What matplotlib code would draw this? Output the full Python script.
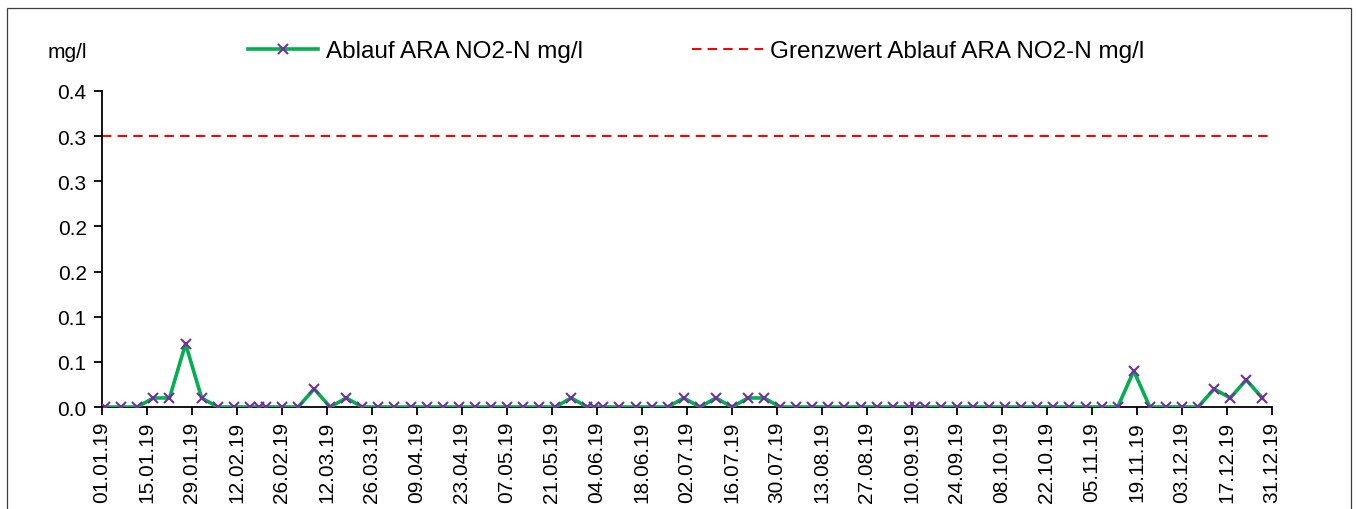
import matplotlib.pyplot as plt
from matplotlib.patches import Rectangle
import pandas as pd

plt.rcParams['font.family'] = ['Liberation Sans', 'DejaVu Sans']

# Messdaten Ablauf ARA NO2-N (mg/l)
daten = [
    "02.01.2019", "07.01.2019", "12.01.2019", "17.01.2019", "22.01.2019", "27.01.2019",
    "01.02.2019", "06.02.2019", "11.02.2019", "16.02.2019", "19.02.2019", "21.02.2019",
    "26.02.2019", "03.03.2019", "08.03.2019", "13.03.2019", "18.03.2019", "23.03.2019",
    "28.03.2019", "02.04.2019", "07.04.2019", "12.04.2019", "17.04.2019", "22.04.2019",
    "27.04.2019", "02.05.2019", "07.05.2019", "12.05.2019", "17.05.2019", "22.05.2019",
    "27.05.2019", "01.06.2019", "03.06.2019", "06.06.2019", "11.06.2019", "16.06.2019",
    "21.06.2019", "26.06.2019", "01.07.2019", "06.07.2019", "11.07.2019", "16.07.2019",
    "21.07.2019", "26.07.2019", "31.07.2019", "05.08.2019", "10.08.2019", "15.08.2019",
    "20.08.2019", "25.08.2019", "30.08.2019", "04.09.2019", "09.09.2019", "11.09.2019",
    "14.09.2019", "19.09.2019", "24.09.2019", "29.09.2019", "04.10.2019", "09.10.2019",
    "14.10.2019", "19.10.2019", "24.10.2019", "29.10.2019", "03.11.2019", "08.11.2019",
    "13.11.2019", "18.11.2019", "23.11.2019", "28.11.2019", "03.12.2019", "08.12.2019",
    "13.12.2019", "18.12.2019", "23.12.2019", "28.12.2019",
]
no2_werte = [
    0.0, 0.0, 0.0, 0.01, 0.01, 0.07,
    0.01, 0.0, 0.0, 0.0, 0.0, 0.0,
    0.0, 0.0, 0.02, 0.0, 0.01, 0.0,
    0.0, 0.0, 0.0, 0.0, 0.0, 0.0,
    0.0, 0.0, 0.0, 0.0, 0.0, 0.0,
    0.01, 0.0, 0.0, 0.0, 0.0, 0.0,
    0.0, 0.0, 0.01, 0.0, 0.01, 0.0,
    0.01, 0.01, 0.0, 0.0, 0.0, 0.0,
    0.0, 0.0, 0.0, 0.0, 0.0, 0.0,
    0.0, 0.0, 0.0, 0.0, 0.0, 0.0,
    0.0, 0.0, 0.0, 0.0, 0.0, 0.0,
    0.0, 0.04, 0.0, 0.0, 0.0, 0.0,
    0.02, 0.01, 0.03, 0.01,
]
grenz_daten = ["01.01.2019", "31.12.2019"]
grenz_werte = [0.3, 0.3]

y_ticks = [0.0, 0.05, 0.10, 0.15, 0.20, 0.25, 0.30, 0.35]
y_labels = ["0.0", "0.1", "0.1", "0.2", "0.2", "0.3", "0.3", "0.4"]

x = pd.to_datetime(daten, format="%d.%m.%Y")
xg = pd.to_datetime(grenz_daten, format="%d.%m.%Y")

W, H = 1357, 510
fig = plt.figure(figsize=(W / 100, H / 100), dpi=100)
ax = fig.add_axes([102 / W, 1 - 408 / H, (1272 - 102) / W, (408 - 92) / H])

ax.plot(x, no2_werte, color='#00B050', lw=2.6, marker='x', ms=7.5,
        mec='#7030A0', mew=1.5, label='Ablauf ARA NO2-N mg/l', zorder=3)
ax.plot(xg, grenz_werte, color='#FF0000', lw=1.5, ls=(0, (4.5, 3)),
        label='Grenzwert Ablauf ARA NO2-N mg/l', zorder=2)

ax.set_xlim(xg[0], xg[1])
ax.set_ylim(0, 0.35)
ax.set_yticks(y_ticks)
ax.set_yticklabels(y_labels)
ticks = pd.date_range(xg[0], xg[1], freq='14D')
ax.set_xticks(ticks)
ax.set_xticklabels([t.strftime('%d.%m.%y') for t in ticks], rotation=90)

for s in ['top', 'right']:
    ax.spines[s].set_visible(False)
for s in ['left', 'bottom']:
    ax.spines[s].set_linewidth(1.3)
ax.tick_params(axis='both', direction='out', length=6, width=1.3, labelsize=15, pad=5)
ax.tick_params(axis='x', pad=4)

fig.text(48 / W, 1 - 52 / H, 'mg/l', fontsize=15, va='center', ha='left')

fig.legend(loc='center left', bbox_to_anchor=(248 / W, 1 - 52 / H), ncol=2,
           frameon=False, fontsize=17.5, handlelength=2.9, handletextpad=0.3,
           columnspacing=4.5, borderpad=0, borderaxespad=0, numpoints=1)

fig.patches.append(Rectangle((7 / W, -0.1), (1351 - 7) / W, 1.1 - 9 / H,
                             transform=fig.transFigure, fill=False,
                             edgecolor='#404040', lw=0.9))

fig.savefig('out.png', dpi=100)
